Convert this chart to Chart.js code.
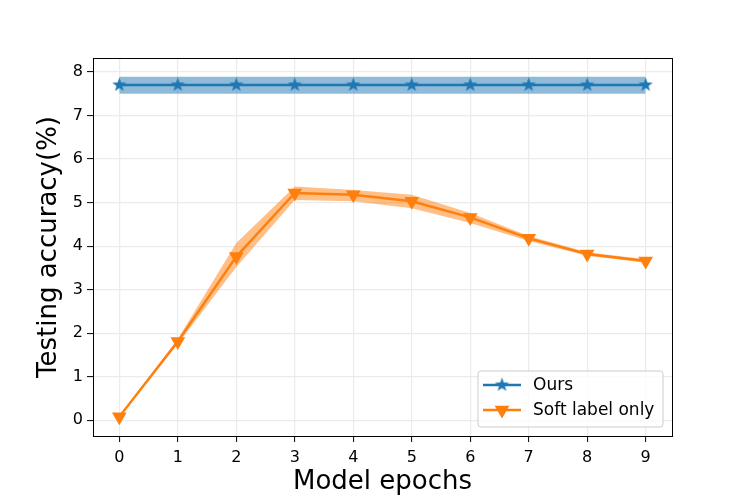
<!DOCTYPE html>
<html lang="en">
<head>
<meta charset="UTF-8" />
<title>Testing accuracy</title>
<script src="https://cdn.jsdelivr.net/npm/chart.js@4"></script>
<style>
  html, body { margin: 0; padding: 0; background: #fff; }
  #wrap { width: 747px; height: 498px; }
</style>
</head>
<body>
<div id="wrap"><canvas id="chart" width="747" height="498"></canvas></div>
<script>
// data
const epochs = [0, 1, 2, 3, 4, 5, 6, 7, 8, 9];
const yTicks = [0, 1, 2, 3, 4, 5, 6, 7, 8];

const oursMean  = [7.70, 7.70, 7.70, 7.70, 7.70, 7.70, 7.70, 7.70, 7.70, 7.70];
const oursUpper = [7.89, 7.89, 7.89, 7.89, 7.89, 7.89, 7.89, 7.89, 7.89, 7.89];
const oursLower = [7.50, 7.50, 7.50, 7.50, 7.50, 7.50, 7.50, 7.50, 7.50, 7.50];

const softMean  = [0.08, 1.81, 3.76, 5.22, 5.18, 5.03, 4.66, 4.18, 3.82, 3.66];
const softUpper = [0.10, 1.87, 4.07, 5.37, 5.29, 5.18, 4.76, 4.23, 3.86, 3.70];
const softLower = [0.06, 1.75, 3.52, 5.06, 5.03, 4.87, 4.53, 4.12, 3.78, 3.62];

const BLUE = '#1f77b4';
const ORANGE = '#ff7f0e';

Chart.defaults.font.family = "'DejaVu Sans', sans-serif";
Chart.defaults.color = '#000';

const pts = arr => arr.map((v, i) => ({ x: epochs[i], y: v }));

// filled five point star, like matplotlib's '*'
function makeStar(r, color) {
  const c = document.createElement('canvas');
  const s = Math.ceil(r * 2 + 2);
  c.width = s; c.height = s;
  const g = c.getContext('2d');
  g.beginPath();
  for (let i = 0; i < 10; i++) {
    const rad = i % 2 === 0 ? r : r * 0.4;
    const a = -Math.PI / 2 + i * Math.PI / 5;
    const px = s / 2 + rad * Math.cos(a), py = s / 2 + rad * Math.sin(a);
    i === 0 ? g.moveTo(px, py) : g.lineTo(px, py);
  }
  g.closePath();
  g.fillStyle = color;
  g.fill();
  return c;
}
const star = makeStar(7.5, BLUE);

// box around the axes + matplotlib style legend
const framePlugin = {
  id: 'frame',
  afterDraw(chart) {
    const { ctx, chartArea: a } = chart;
    ctx.save();
    ctx.strokeStyle = '#000';
    ctx.lineWidth = 1;
    ctx.strokeRect(Math.round(a.left) + 0.5, Math.round(a.top) + 0.5, Math.round(a.right - a.left), Math.round(a.bottom - a.top));

    const w = 185, h = 56;
    const x0 = a.right - 9 - w, y0 = a.bottom - 9 - h;
    ctx.beginPath();
    ctx.roundRect(x0, y0, w, h, 3);
    ctx.fillStyle = 'rgba(255,255,255,0.8)';
    ctx.fill();
    ctx.strokeStyle = '#cccccc';
    ctx.stroke();

    const items = [
      { label: 'Ours', color: BLUE, style: star, r: 7.5, rot: 0 },
      { label: 'Soft label only', color: ORANGE, style: 'triangle', r: 8.5, rot: 180 }
    ];
    items.forEach((it, i) => {
      const yy = y0 + 14 + i * 25;
      ctx.strokeStyle = it.color;
      ctx.lineWidth = 2.4;
      ctx.beginPath();
      ctx.moveTo(x0 + 5, yy);
      ctx.lineTo(x0 + 43, yy);
      ctx.stroke();
      ctx.fillStyle = it.color;
      Chart.helpers.drawPoint(ctx, { pointStyle: it.style, radius: it.r, rotation: it.rot, borderWidth: 0 }, x0 + 24, yy);
      ctx.fillStyle = '#000';
      ctx.font = "17px 'DejaVu Sans'";
      ctx.textBaseline = 'middle';
      ctx.fillText(it.label, x0 + 55, yy + 1);
    });
    ctx.restore();
  }
};

new Chart(document.getElementById('chart'), {
  type: 'line',
  data: {
    datasets: [
      {
        label: 'Soft label only', data: pts(softMean),
        borderColor: ORANGE, backgroundColor: ORANGE, borderWidth: 2.4,
        pointStyle: 'triangle', pointRotation: 180, pointRadius: 8.5, pointBorderWidth: 0,
        fill: false
      },
      {
        label: 'Ours', data: pts(oursMean),
        borderColor: BLUE, backgroundColor: BLUE, borderWidth: 2.4,
        pointStyle: star, pointRadius: 7.5, fill: false
      },
      {
        label: 'soft upper', data: pts(softUpper),
        borderWidth: 0, pointRadius: 0, fill: '+1',
        backgroundColor: 'rgba(255,127,14,0.5)', borderColor: 'rgba(0,0,0,0)'
      },
      {
        label: 'soft lower', data: pts(softLower),
        borderWidth: 0, pointRadius: 0, fill: false, borderColor: 'rgba(0,0,0,0)'
      },
      {
        label: 'ours upper', data: pts(oursUpper),
        borderWidth: 0, pointRadius: 0, fill: '+1',
        backgroundColor: 'rgba(31,119,180,0.5)', borderColor: 'rgba(0,0,0,0)'
      },
      {
        label: 'ours lower', data: pts(oursLower),
        borderWidth: 0, pointRadius: 0, fill: false, borderColor: 'rgba(0,0,0,0)'
      }
    ]
  },
  options: {
    responsive: false,
    animation: false,
    layout: { padding: { top: 58, right: 75, left: 0, bottom: 0 } },
    plugins: {
      legend: { display: false },
      tooltip: { enabled: false }
    },
    elements: { line: { tension: 0 } },
    scales: {
      x: {
        type: 'linear', min: -0.45, max: 9.45,
        afterBuildTicks: s => { s.ticks = epochs.map(v => ({ value: v })); },
        afterFit: s => { s.height = 62; },
        grid: { color: '#ebebeb', lineWidth: 1.2, tickColor: '#000', tickLength: 6, tickWidth: 1 },
        border: { color: '#000', width: 1 },
        ticks: { font: { size: 16 }, color: '#000', padding: 6, maxRotation: 0 },
        title: { display: true, text: 'Model epochs', font: { size: 26 }, color: '#000', padding: { top: 0, bottom: 0 } }
      },
      y: {
        min: -0.36, max: 8.32,
        afterBuildTicks: s => { s.ticks = yTicks.map(v => ({ value: v })); },
        afterFit: s => { s.width = 93; },
        grid: { color: '#ebebeb', lineWidth: 1.2, tickColor: '#000', tickLength: 6, tickWidth: 1 },
        border: { color: '#000', width: 1 },
        ticks: { font: { size: 16 }, color: '#000', padding: 4 },
        title: { display: true, text: 'Testing accuracy(%)', font: { size: 26 }, color: '#000', padding: { top: 34, bottom: 0 } }
      }
    }
  },
  plugins: [framePlugin]
});
</script>
</body>
</html>
